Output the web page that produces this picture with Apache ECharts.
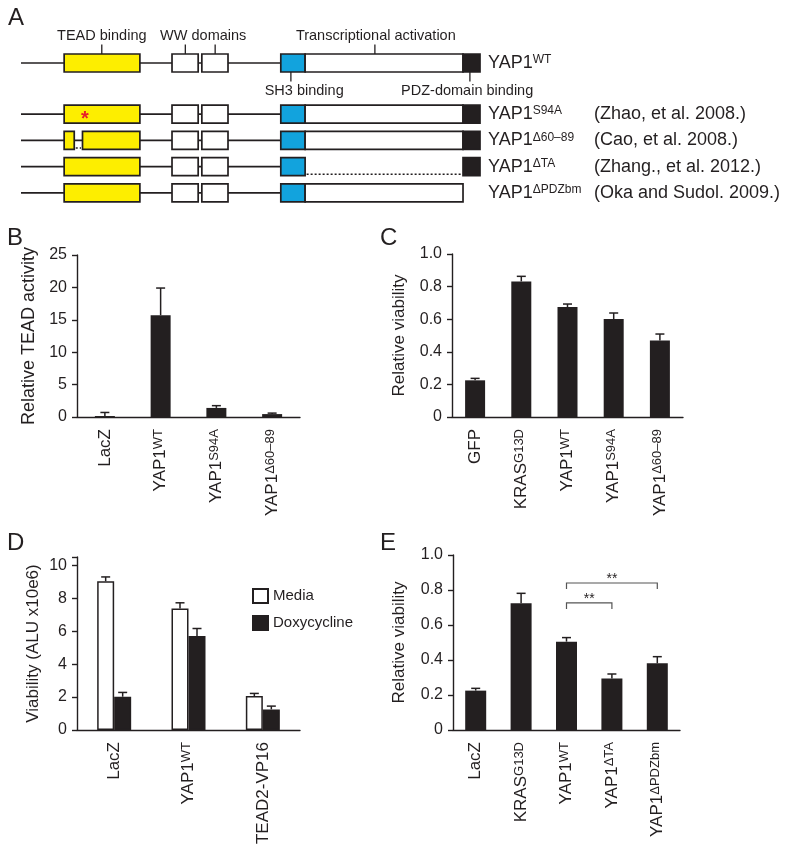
<!DOCTYPE html>
<html>
<head>
<meta charset="utf-8">
<script src="https://cdn.jsdelivr.net/npm/echarts@6/dist/echarts.min.js"></script>
<style>
html, body { margin: 0; padding: 0; background: #fff; }
#chart { width: 800px; height: 861px; }
</style>
</head>
<body>
<div id="chart"></div>
<script>
// ---- panel A: construct schematic (units 0-100 along YAP1) ----
var constructs = ['YAP1^WT', 'YAP1^S94A', 'YAP1^Δ60–89', 'YAP1^ΔTA', 'YAP1^ΔPDZbm'];
var citations = ['(Zhao, et al. 2008.)', '(Cao, et al. 2008.)', '(Zhang., et al. 2012.)', '(Oka and Sudol. 2009.)'];
var domains = ['TEAD', 'WW1', 'WW2', 'SH3', 'TA', 'PDZ'];
var domainStart = [9.4, 32.9, 39.4, 56.6, 61.9, 96.3];
var domainEnd = [25.9, 38.6, 45.1, 61.9, 96.3, 100];
var backboneEnd = 56.6;
var mutationAt = [null, 13.9, null, null, null];
var deletionStart = [null, null, 11.6, 61.9, 96.3];
var deletionEnd = [null, null, 13.4, 96.3, 100];
var featureText = ['TEAD binding', 'WW domains', 'Transcriptional activation', 'SH3 binding', 'PDZ-domain binding'];
var featureTicks = [[17.6], [35.8, 42.3], [77.1], [58.8], [97.8]];
var featureTextAt = [17.6, 39.7, 77.3, 61.7, 97.2];
var featureAbove = [true, true, true, false, false];

// ---- panel B ----
var catB = ['LacZ', 'YAP1^WT', 'YAP1^S94A', 'YAP1^Δ60–89'];
var teadB = [0.15, 15.7, 1.4, 0.45];
var teadErrB = [0.55, 4.2, 0.35, 0.15];

// ---- panel C ----
var catC = ['GFP', 'KRAS^G13D', 'YAP1^WT', 'YAP1^S94A', 'YAP1^Δ60–89'];
var viabC = [0.225, 0.832, 0.675, 0.601, 0.47];
var viabErrC = [0.012, 0.031, 0.018, 0.037, 0.039];

// ---- panel D ----
var catD = ['LacZ', 'YAP1^WT', 'TEAD2-VP16'];
var mediaD = [9.03, 7.37, 2.06];
var mediaErrD = [0.26, 0.35, 0.16];
var doxD = [2.02, 5.70, 1.25];
var doxErrD = [0.26, 0.46, 0.2];

// ---- panel E ----
var catE = ['LacZ', 'KRAS^G13D', 'YAP1^WT', 'YAP1^ΔTA', 'YAP1^ΔPDZbm'];
var viabE = [0.225, 0.724, 0.505, 0.295, 0.381];
var viabErrE = [0.013, 0.057, 0.023, 0.025, 0.038];
var sigFrom = [2, 2];
var sigTo = [3, 4];
var sigLevel = [0.726, 0.84];
var sigText = ['**', '**'];

var ink = '#231f20';
var font = 'Liberation Sans';
var domainFill = ['#fdee00', '#ffffff', '#ffffff', '#12a3dd', '#ffffff', ink];

var myChart = echarts.init(document.getElementById('chart'));

// label 'YAP1^WT' -> rich text with superscript
function sup(label) {
    var p = label.split('^');
    return p.length > 1 ? '{n|' + p[0] + '}{s|' + p[1] + '}' : '{n|' + p[0] + '}';
}

function schematicRows(first, last) {
    var out = [];
    for (var c = first; c <= last; c++) {
        var row = c - first;
        out.push([0, row, backboneEnd, -1, 1]);
        for (var d = 0; d < domains.length; d++) {
            var s = domainStart[d], e = domainEnd[d];
            var ds = deletionStart[c], de = deletionEnd[c];
            if (ds === null || de <= s || ds >= e) {
                out.push([s, row, e, d, 0]);
                continue;
            }
            if (ds > s) out.push([s, row, ds, d, 0]);
            if (de < e) out.push([de, row, e, d, 0]);
        }
        if (deletionStart[c] !== null && deletionEnd[c] < 100)
            out.push([deletionStart[c], row, deletionEnd[c], -1, 2]);
        if (mutationAt[c] !== null)
            out.push([mutationAt[c], row, mutationAt[c], -1, 3]);
    }
    return out;
}

function renderSchematic(params, api) {
    var p0 = api.coord([api.value(0), api.value(1)]);
    var p1 = api.coord([api.value(2), api.value(1)]);
    var kind = api.value(4);
    var h = 18;
    if (kind === 1) {
        return { type: 'line', shape: { x1: p0[0], y1: p0[1], x2: p1[0], y2: p1[1] }, style: { stroke: ink, lineWidth: 1.6 } };
    }
    if (kind === 2) {
        return { type: 'line', shape: { x1: p0[0] + 1.5, y1: p0[1] + h / 2 - 1.5, x2: p1[0] - 1.5, y2: p1[1] + h / 2 - 1.5 },
            style: { stroke: ink, lineWidth: 1.5, lineDash: [2, 2] } };
    }
    if (kind === 3) {
        return { type: 'text', style: { text: '*', x: p0[0], y: p0[1] + 5, align: 'center', verticalAlign: 'middle',
            font: 'bold 20px ' + font, fill: '#e8202a' } };
    }
    return { type: 'rect', shape: { x: p0[0], y: p0[1] - h / 2, width: p1[0] - p0[0], height: h },
        style: { fill: domainFill[api.value(3)], stroke: ink, lineWidth: 1.7 } };
}

function renderFeature(params, api) {
    var i = params.dataIndex;
    var dir = featureAbove[i] ? -1 : 1;
    var c = api.coord([featureTextAt[i], 0]);
    var children = featureTicks[i].map(function (t) {
        var p = api.coord([t, 0]);
        return { type: 'line', shape: { x1: p[0], y1: p[1] + dir * 9, x2: p[0], y2: p[1] + dir * 18.5 },
            style: { stroke: ink, lineWidth: 1.3 } };
    });
    children.push({ type: 'text', style: { text: featureText[i], x: c[0], y: c[1] + dir * 27.5, align: 'center',
        verticalAlign: 'middle', font: '14.5px ' + font, fill: ink } });
    return { type: 'group', children: children };
}

function errorBar(offset) {
    return function (params, api) {
        var base = api.coord([api.value(0), api.value(1)]);
        var top = api.coord([api.value(0), api.value(1) + api.value(2)]);
        var x = base[0] + offset;
        return { type: 'group', children: [
            { type: 'line', shape: { x1: x, y1: base[1], x2: x, y2: top[1] }, style: { stroke: ink, lineWidth: 1.5 } },
            { type: 'line', shape: { x1: x - 4.5, y1: top[1], x2: x + 4.5, y2: top[1] }, style: { stroke: ink, lineWidth: 1.5 } }
        ] };
    };
}

function renderBracket(params, api) {
    var a = api.coord([api.value(0), api.value(2)]);
    var b = api.coord([api.value(1), api.value(2)]);
    return { type: 'group', children: [
        { type: 'polyline', shape: { points: [[a[0], a[1] + 6], [a[0], a[1]], [b[0], b[1]], [b[0], b[1] + 6]] },
            style: { stroke: '#555', lineWidth: 1.2, fill: 'none' } },
        { type: 'text', style: { text: sigText[params.dataIndex], x: (a[0] + b[0]) / 2, y: a[1] + 3, align: 'center',
            verticalAlign: 'bottom', font: '14px ' + font, fill: ink } }
    ] };
}

function errData(vals, errs) {
    return vals.map(function (v, i) { return [i, v, errs[i]]; });
}

var richLabel = {
    n: { fontSize: 17, fontFamily: font, color: ink },
    s: { fontSize: 13, fontFamily: font, color: ink, verticalAlign: 'top' }
};

function catAxis(grid, cats) {
    return {
        type: 'category', gridIndex: grid, data: cats,
        axisLine: { lineStyle: { color: ink, width: 1.4 } },
        axisTick: { length: 6, lineStyle: { color: ink, width: 1.4 } },
        axisLabel: { rotate: 90, interval: 0, margin: 12, formatter: sup, rich: richLabel }
    };
}

function valAxis(grid, max, interval, name, gap, nameSize, fmt) {
    return {
        type: 'value', gridIndex: grid, min: 0, max: max, interval: interval,
        name: name, nameLocation: 'middle', nameRotate: 90, nameGap: gap,
        nameTextStyle: { fontSize: nameSize, color: ink, fontFamily: font },
        axisLine: { show: true, lineStyle: { color: ink, width: 1.4 } },
        axisTick: { show: true, length: 5, lineStyle: { color: ink, width: 1.4 } },
        splitLine: { show: false },
        axisLabel: { color: ink, fontSize: 16, fontFamily: font, margin: 10, formatter: fmt }
    };
}

function schematicNameAxis(grid, names) {
    return {
        type: 'category', gridIndex: grid, data: names, inverse: true, position: 'right',
        axisLine: { show: false }, axisTick: { show: false },
        axisLabel: { margin: 8, align: 'left', formatter: sup, rich: {
            n: { fontSize: 18, fontFamily: font, color: ink },
            s: { fontSize: 12, fontFamily: font, color: ink, verticalAlign: 'top' }
        } }
    };
}

function oneDecimal(v) { return v === 0 ? '0' : v.toFixed(1); }
function evenOnly(v) { return v % 2 === 0 ? String(v) : ''; }

var letters = [['A', 8, 6], ['B', 7, 226], ['C', 380, 226], ['D', 7, 531], ['E', 380, 531]];

option = {
    animation: false,
    textStyle: { fontFamily: font },
    graphic: letters.map(function (l) {
        return { type: 'text', left: l[1], top: l[2], style: { text: l[0], font: '24px ' + font, fill: ink } };
    }),
    legend: {
        data: ['Media', 'Doxycycline'], left: 247, top: 583, orient: 'vertical', icon: 'rect',
        itemWidth: 15, itemHeight: 14, itemGap: 11,
        textStyle: { fontSize: 15, color: ink, fontFamily: font }
    },
    grid: [
        { left: 21, top: 50, width: 459, height: 26, outerBoundsMode: 'none' },
        { left: 21, top: 101, width: 459, height: 105, outerBoundsMode: 'none' },
        { left: 77, top: 255, width: 223, height: 162, outerBoundsMode: 'none' },
        { left: 452, top: 254, width: 231, height: 163, outerBoundsMode: 'none' },
        { left: 77, top: 557, width: 223, height: 173, outerBoundsMode: 'none' },
        { left: 453, top: 555, width: 227, height: 175, outerBoundsMode: 'none' }
    ],
    xAxis: [
        { type: 'value', gridIndex: 0, min: 0, max: 100, show: false },
        { type: 'value', gridIndex: 1, min: 0, max: 100, show: false },
        catAxis(2, catB),
        catAxis(3, catC),
        catAxis(4, catD),
        catAxis(5, catE)
    ],
    yAxis: [
        schematicNameAxis(0, constructs.slice(0, 1)),
        schematicNameAxis(1, constructs.slice(1)),
        {
            type: 'category', gridIndex: 1, data: citations, inverse: true, position: 'right', offset: 106,
            axisLine: { show: false }, axisTick: { show: false },
            axisLabel: { margin: 8, align: 'left', fontSize: 18, color: ink, fontFamily: font }
        },
        valAxis(2, 25, 5, 'Relative TEAD activity', 39, 18, null),
        valAxis(3, 1, 0.2, 'Relative viability', 44, 17, oneDecimal),
        valAxis(4, 10.5, 2, 'Viability (ALU x10e6)', 35, 17, evenOnly),
        valAxis(5, 1, 0.2, 'Relative viability', 45, 17, oneDecimal)
    ],
    series: [
        { type: 'custom', xAxisIndex: 0, yAxisIndex: 0, data: schematicRows(0, 0), encode: { x: [0, 2], y: 1 }, renderItem: renderSchematic },
        { type: 'custom', xAxisIndex: 0, yAxisIndex: 0, data: featureTextAt.map(function (v) { return [v, 0]; }),
            encode: { x: 0, y: 1 }, renderItem: renderFeature },
        { type: 'custom', xAxisIndex: 1, yAxisIndex: 1, data: schematicRows(1, 4), encode: { x: [0, 2], y: 1 }, renderItem: renderSchematic },

        { type: 'bar', xAxisIndex: 2, yAxisIndex: 3, data: teadB, barWidth: 20, itemStyle: { color: ink } },
        { type: 'custom', xAxisIndex: 2, yAxisIndex: 3, data: errData(teadB, teadErrB), encode: { x: 0, y: 1 }, renderItem: errorBar(0), z: 3 },

        { type: 'bar', xAxisIndex: 3, yAxisIndex: 4, data: viabC, barWidth: 20, itemStyle: { color: ink } },
        { type: 'custom', xAxisIndex: 3, yAxisIndex: 4, data: errData(viabC, viabErrC), encode: { x: 0, y: 1 }, renderItem: errorBar(0), z: 3 },

        { name: 'Media', type: 'bar', xAxisIndex: 4, yAxisIndex: 5, data: mediaD, barWidth: 17, barGap: 0,
            itemStyle: { color: '#ffffff', borderColor: ink, borderWidth: 1.5 } },
        { name: 'Doxycycline', type: 'bar', xAxisIndex: 4, yAxisIndex: 5, data: doxD, barWidth: 17, barGap: 0,
            itemStyle: { color: ink, borderColor: ink, borderWidth: 1.5 } },
        { type: 'custom', xAxisIndex: 4, yAxisIndex: 5, data: errData(mediaD, mediaErrD), encode: { x: 0, y: 1 }, renderItem: errorBar(-8.5), z: 3 },
        { type: 'custom', xAxisIndex: 4, yAxisIndex: 5, data: errData(doxD, doxErrD), encode: { x: 0, y: 1 }, renderItem: errorBar(8.5), z: 3 },

        { type: 'bar', xAxisIndex: 5, yAxisIndex: 6, data: viabE, barWidth: 21, itemStyle: { color: ink } },
        { type: 'custom', xAxisIndex: 5, yAxisIndex: 6, data: errData(viabE, viabErrE), encode: { x: 0, y: 1 }, renderItem: errorBar(0), z: 3 },
        { type: 'custom', xAxisIndex: 5, yAxisIndex: 6, data: sigFrom.map(function (f, i) { return [f, sigTo[i], sigLevel[i]]; }),
            encode: { x: [0, 1], y: 2 }, renderItem: renderBracket, z: 3 }
    ]
};

if (option && typeof option === 'object')
    myChart.setOption(option);
window.addEventListener('resize', function () {
    myChart.resize();
});
</script>
</body>
</html>
